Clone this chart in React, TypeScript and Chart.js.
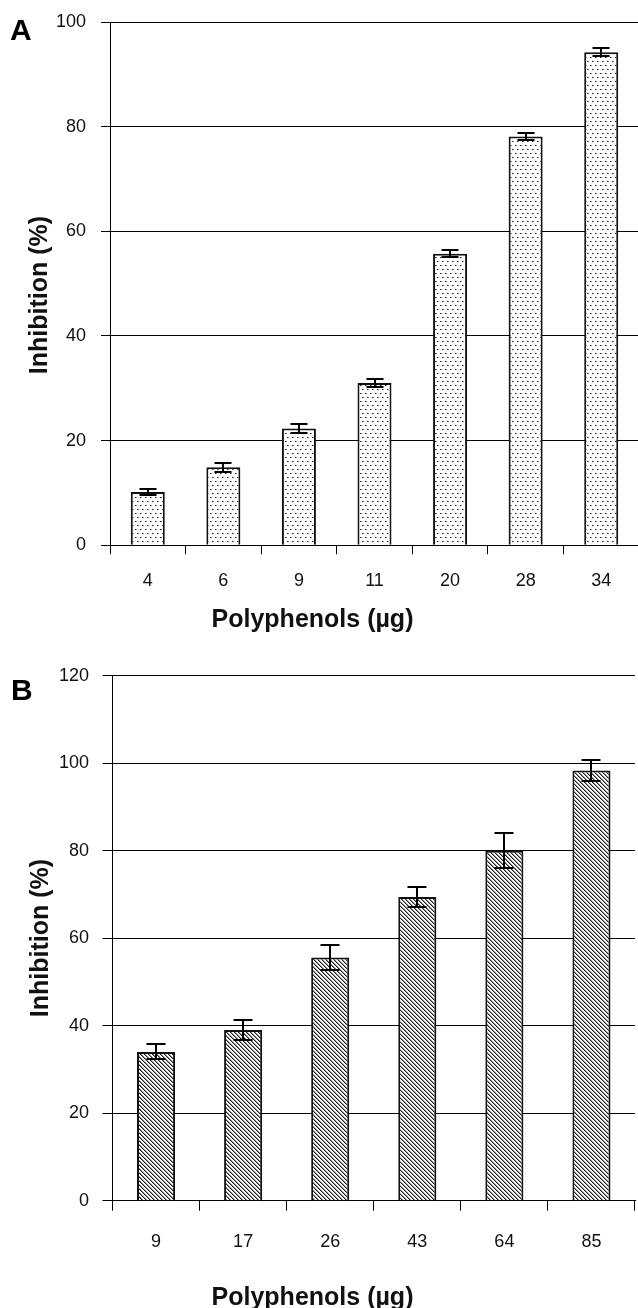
import React, { useEffect, useRef } from 'react';
import { Chart, registerables } from 'chart.js';

Chart.register(...registerables);

// ---- Data ----
const categoriesA = ['4', '6', '9', '11', '20', '28', '34'];
const valuesA = [10.2, 14.9, 22.3, 31.0, 55.7, 78.1, 94.2];
const errorsA = [0.5, 0.8, 0.8, 0.8, 0.7, 0.7, 0.75];
const yMaxA = 100;

const categoriesB = ['9', '17', '26', '43', '64', '85'];
const valuesB = [34.0, 39.0, 55.6, 69.4, 80.0, 98.3];
const errorsB = [1.7, 2.2, 2.8, 2.3, 4.0, 2.5];
const yMaxB = 120;

const yStep = 20;
const xTitle = 'Polyphenols (µg)';
const yTitle = 'Inhibition (%)';
const panelA = 'A';
const panelB = 'B';

const FONT = "'Liberation Sans', Arial, Helvetica, sans-serif";

function dotPattern(): CanvasPattern | string {
  const c = document.createElement('canvas');
  c.width = 5;
  c.height = 8;
  const g = c.getContext('2d');
  if (!g) return '#ddd';
  g.fillStyle = '#fff';
  g.fillRect(0, 0, 5, 8);
  g.fillStyle = '#222';
  g.fillRect(0, 1, 1, 1);
  g.fillRect(2, 5, 1, 1);
  g.fillStyle = '#888';
  g.fillRect(1, 1, 1, 1);
  g.fillRect(3, 5, 1, 1);
  const p = g.createPattern(c, 'repeat');
  return p || '#ddd';
}

function hatchPattern(): CanvasPattern | string {
  const c = document.createElement('canvas');
  c.width = 4;
  c.height = 4;
  const g = c.getContext('2d');
  if (!g) return '#888';
  g.fillStyle = '#fff';
  g.fillRect(0, 0, 4, 4);
  for (let i = 0; i < 4; i++) {
    g.fillStyle = '#222';
    g.fillRect(i, i, 1, 1);
    g.fillStyle = '#8a8a8a';
    g.fillRect((i + 1) % 4, i, 1, 1);
  }
  const p = g.createPattern(c, 'repeat');
  return p || '#888';
}

const errorBarPlugin = {
  id: 'errorBars',
  afterDraw(chart: any, _args: any, opts: any) {
    const meta = chart.getDatasetMeta(0);
    const y = chart.scales.y;
    const ctx = chart.ctx;
    const data = chart.data.datasets[0].data;
    ctx.save();
    ctx.strokeStyle = '#000';
    ctx.lineWidth = 2;
    meta.data.forEach((bar: any, i: number) => {
      const v = data[i];
      const e = opts.errors[i];
      const yHi = Math.round(y.getPixelForValue(v + e));
      const yLo = Math.round(y.getPixelForValue(v - e));
      const x = Math.round(bar.x);
      const h = opts.capWidth / 2;
      ctx.beginPath();
      ctx.moveTo(x, yHi);
      ctx.lineTo(x, yLo);
      ctx.moveTo(x - h, yHi);
      ctx.lineTo(x + h, yHi);
      ctx.moveTo(x - h, yLo);
      ctx.lineTo(x + h, yLo);
      ctx.stroke();
    });
    ctx.restore();
  },
};

// Panel letter and axis titles, placed where the reference puts them
const textPlugin = {
  id: 'panelText',
  afterDraw(chart: any, _args: any, opts: any) {
    const ctx = chart.ctx;
    ctx.save();
    ctx.fillStyle = '#000';
    ctx.textBaseline = 'alphabetic';
    ctx.font = `bold 30px ${FONT}`;
    ctx.textAlign = 'left';
    ctx.fillText(opts.label, opts.labelX, opts.labelY);
    ctx.fillStyle = '#111';
    ctx.font = `bold 25px ${FONT}`;
    ctx.textAlign = 'center';
    ctx.fillText(opts.xText, opts.xX, opts.xY);
    ctx.translate(opts.yX, opts.yY);
    ctx.rotate(-Math.PI / 2);
    ctx.fillText(opts.yText, 0, 0);
    ctx.restore();
  },
};

interface Spec {
  cats: string[];
  vals: number[];
  errs: number[];
  yMax: number;
  fill: CanvasPattern | string;
  height: number;
  left: number;
  top: number;
  right: number;
  bottom: number;
  barPct: number;
  capWidth: number;
  yTickLen: number;
  xTickLen: number;
  yTickPad: number;
  xTickPad: number;
  label: string;
  labelX: number;
  labelY: number;
  xTitleX: number;
  xTitleY: number;
  yTitleX: number;
  yTitleY: number;
}

function buildConfig(s: Spec): any {
  const W = 642;
  return {
    type: 'bar',
    data: {
      labels: s.cats,
      datasets: [
        {
          data: s.vals,
          backgroundColor: s.fill,
          borderColor: '#111',
          borderWidth: 2,
          barPercentage: s.barPct,
          categoryPercentage: 1,
        },
      ],
    },
    plugins: [errorBarPlugin, textPlugin],
    options: {
      responsive: false,
      animation: false,
      devicePixelRatio: 1,
      layout: { padding: { top: s.top, left: 0, right: W - s.right, bottom: 0 } },
      plugins: {
        legend: { display: false },
        tooltip: { enabled: false },
        errorBars: { errors: s.errs, capWidth: s.capWidth },
        panelText: {
          label: s.label,
          labelX: s.labelX,
          labelY: s.labelY,
          xText: xTitle,
          xX: s.xTitleX,
          xY: s.xTitleY,
          yText: yTitle,
          yX: s.yTitleX,
          yY: s.yTitleY,
        },
      },
      scales: {
        x: {
          type: 'category',
          offset: true,
          afterFit: (sc: any) => {
            sc.height = s.height - s.bottom;
            sc.paddingLeft = 0;
            sc.paddingRight = 0;
          },
          grid: {
            offset: true,
            drawOnChartArea: false,
            drawTicks: true,
            tickLength: s.xTickLen,
            color: '#000',
            tickColor: '#000',
            lineWidth: 1,
          },
          border: { display: true, color: '#000', width: 1 },
          ticks: {
            color: '#111',
            font: { family: FONT, size: 18 },
            padding: s.xTickPad,
            autoSkip: false,
            maxRotation: 0,
          },
          title: { display: false },
        },
        y: {
          min: 0,
          max: s.yMax,
          z: 1,
          afterFit: (sc: any) => {
            sc.width = s.left;
            sc.paddingTop = 0;
            sc.paddingBottom = 0;
          },
          grid: {
            color: '#000',
            tickColor: '#000',
            lineWidth: 1,
            drawTicks: true,
            tickLength: s.yTickLen,
          },
          border: { display: true, color: '#000', width: 1 },
          ticks: {
            stepSize: yStep,
            color: '#111',
            font: { family: FONT, size: 18 },
            padding: s.yTickPad,
          },
          title: { display: false },
        },
      },
    },
  };
}

export default function App() {
  const refA = useRef<HTMLCanvasElement | null>(null);
  const refB = useRef<HTMLCanvasElement | null>(null);

  useEffect(() => {
    document.documentElement.style.overflow = 'hidden';
    document.body.style.overflow = 'hidden';
    if (!refA.current || !refB.current) return;
    const chartA = new Chart(
      refA.current,
      buildConfig({
        cats: categoriesA,
        vals: valuesA,
        errs: errorsA,
        yMax: yMaxA,
        fill: dotPattern(),
        height: 650,
        left: 110,
        top: 22,
        right: 639,
        bottom: 545.3,
        barPct: 0.45,
        capWidth: 17,
        yTickLen: 9,
        xTickLen: 9,
        yTickPad: 15,
        xTickPad: 15.6,
        label: panelA,
        labelX: 10,
        labelY: 40,
        xTitleX: 312.5,
        xTitleY: 627,
        yTitleX: 47,
        yTitleY: 295,
      })
    );
    const chartB = new Chart(
      refB.current,
      buildConfig({
        cats: categoriesB,
        vals: valuesB,
        errs: errorsB,
        yMax: yMaxB,
        fill: hatchPattern(),
        height: 658,
        left: 112.5,
        top: 25.6,
        right: 635,
        bottom: 550.7,
        barPct: 0.437,
        capWidth: 19,
        yTickLen: 10,
        xTickLen: 10,
        yTickPad: 13.4,
        xTickPad: 20.2,
        label: panelB,
        labelX: 11,
        labelY: 50,
        xTitleX: 312.5,
        xTitleY: 654.5,
        yTitleX: 48,
        yTitleY: 288,
      })
    );
    return () => {
      chartA.destroy();
      chartB.destroy();
    };
  }, []);

  return (
    <div
      style={{
        position: 'fixed',
        left: 0,
        top: 0,
        width: 638,
        height: 1308,
        overflow: 'hidden',
        background: '#fff',
      }}
    >
      <div style={{ position: 'absolute', left: 0, top: 0, width: 642, height: 650 }}>
        <canvas ref={refA} width={642} height={650} style={{ display: 'block' }} />
      </div>
      <div style={{ position: 'absolute', left: 0, top: 650, width: 642, height: 658 }}>
        <canvas ref={refB} width={642} height={658} style={{ display: 'block' }} />
      </div>
    </div>
  );
}
